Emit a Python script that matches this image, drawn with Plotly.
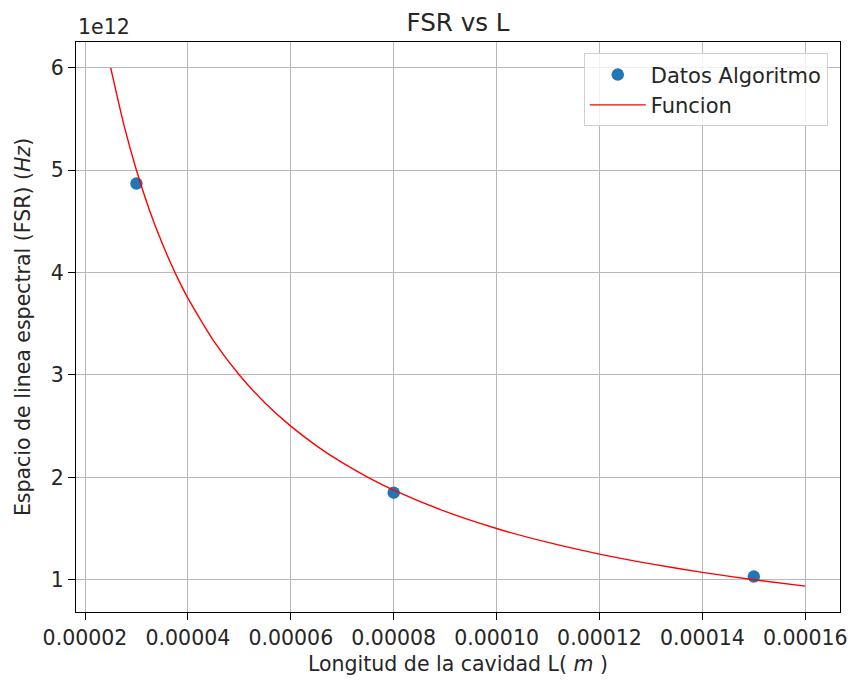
import plotly.graph_objects as go

# Measured cavity lengths (m) and free spectral range (Hz)
datos_L = [3.0e-5, 8.0e-5, 1.5e-4]
datos_fsr = [4.87e12, 1.85e12, 1.03e12]

# Reference curve samples: cavity length (m) and FSR (Hz)
func_L = [2.5e-5, 2.75e-5, 3.0e-5, 3.25e-5, 3.5e-5, 3.75e-5, 4.0e-5, 4.5e-5,
          5.0e-5, 5.5e-5, 6.0e-5, 6.5e-5, 7.0e-5, 7.5e-5, 8.0e-5, 9.0e-5, 1.0e-4,
          1.1e-4, 1.2e-4, 1.3e-4, 1.4e-4, 1.5e-4, 1.6e-4]
func_fsr = [6.0e12, 5.455e12, 5.0e12, 4.615e12, 4.286e12, 4.0e12, 3.75e12, 3.333e12,
            3.0e12, 2.727e12, 2.5e12, 2.308e12, 2.143e12, 2.0e12, 1.875e12, 1.667e12, 1.5e12,
            1.364e12, 1.25e12, 1.154e12, 1.071e12, 1.0e12, 0.9375e12]

x_ticks = [2e-5, 4e-5, 6e-5, 8e-5, 1.0e-4, 1.2e-4, 1.4e-4, 1.6e-4]
x_ticktext = ["0.00002", "0.00004", "0.00006", "0.00008", "0.00010", "0.00012", "0.00014", "0.00016"]
y_ticks = [1e12, 2e12, 3e12, 4e12, 5e12, 6e12]
y_ticktext = ["1", "2", "3", "4", "5", "6"]

FONT = "DejaVu Sans"
FS = 20.5
TXT = "#262626"

fig = go.Figure()
fig.add_trace(go.Scatter(
    x=datos_L, y=datos_fsr, mode="markers", name="Datos Algoritmo",
    marker=dict(color="#1f77b4", size=12.5, line=dict(width=0)),
))
fig.add_trace(go.Scatter(
    x=func_L, y=func_fsr, mode="lines", name="Funcion",
    line=dict(color="red", width=1.4, shape="spline", smoothing=0.6),
))

# matplotlib-style 5% margins around the data
xmin, xmax = min(func_L), max(func_L)
ymin, ymax = min(func_fsr), max(func_fsr)
dx, dy = (xmax - xmin) * 0.05, (ymax - ymin) * 0.05

axis_common = dict(
    showgrid=True, gridcolor="#b8b8b8", gridwidth=1.1,
    showline=True, linecolor="black", linewidth=1.2, mirror=True,
    ticks="outside", ticklen=7, tickwidth=1.2, tickcolor="black",
    zeroline=False, automargin=False,
    tickfont=dict(family=FONT, size=FS, color=TXT),
)

fig.update_layout(
    width=854, height=685,
    margin=dict(l=76, r=14, t=42, b=73),
    paper_bgcolor="white", plot_bgcolor="white",
    font=dict(family=FONT, color=TXT),
    title=dict(text="FSR vs L", x=0.5, xref="paper", xanchor="center",
               y=1 - 22 / 685, yref="container", yanchor="middle",
               font=dict(family=FONT, size=24.6, color=TXT)),
    xaxis=dict(range=[xmin - dx, xmax + dx], tickvals=x_ticks, ticktext=x_ticktext,
               title=dict(text="Longitud de la cavidad L( <i>m</i> )", standoff=7,
                          font=dict(family=FONT, size=FS, color=TXT)),
               **axis_common),
    yaxis=dict(range=[ymin - dy, ymax + dy], tickvals=y_ticks, ticktext=y_ticktext,
               title=dict(text="Espacio de linea espectral (FSR) (<i>Hz</i>)", standoff=14,
                          font=dict(family=FONT, size=FS, color=TXT)),
               **axis_common),
    legend=dict(x=0.984, y=0.98, xanchor="right", yanchor="top",
                bgcolor="rgba(255,255,255,0.8)", bordercolor="#d0d0d0", borderwidth=1,
                font=dict(family=FONT, size=21, color=TXT),
                itemwidth=56),
    showlegend=True,
)

fig.add_annotation(text="1e12", xref="paper", yref="paper", x=0, y=1,
                   xanchor="left", yanchor="bottom", yshift=1, showarrow=False,
                   font=dict(family=FONT, size=FS, color=TXT))

fig.write_html("out.html")
